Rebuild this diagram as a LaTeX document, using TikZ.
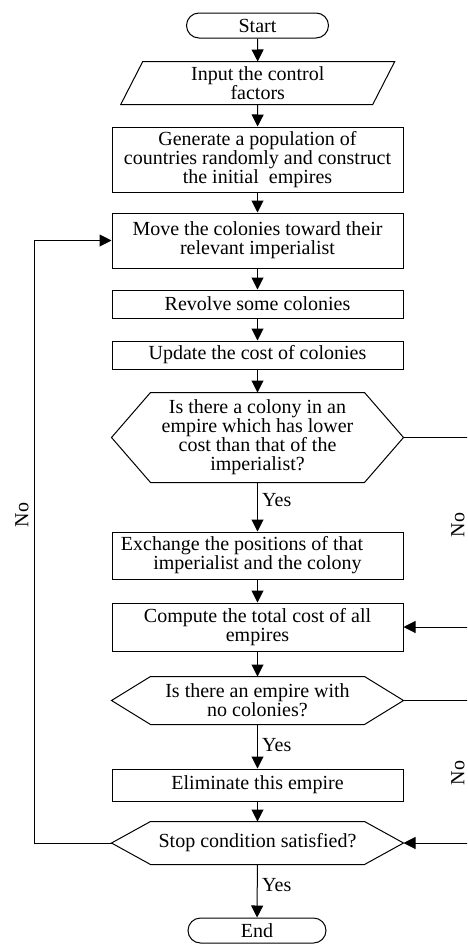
\documentclass[tikz,border=0pt]{standalone}
\usepackage{fontspec}
\setmainfont{Liberation Serif}
\usetikzlibrary{arrows.meta,calc}
\begin{document}
\begin{tikzpicture}[x=1pt,y=-1pt,
  base/.style={font=\fontsize{20}{19}\selectfont, align=center, inner sep=0pt, line width=1pt},
  proc/.style={base, draw, minimum width=291pt},
  term/.style={base, draw, minimum width=142pt, minimum height=25pt, rounded corners=12.5pt},
  ghost/.style={base, minimum width=291pt},
  arr/.style={line width=1pt, -{Triangle[length=12pt,width=12pt]}},
  lbl/.style={font=\fontsize{20}{20}\selectfont, inner sep=0pt},
  shp/.style={line width=1pt, line join=miter}
]
\useasboundingbox (0,0) rectangle (467,945);
\clip (0,0) rectangle (467,945);

\node[term] (start) at (257.5,25.5) {Start};
\node[base, minimum width=251pt, minimum height=42pt] (input) at (257.75,83) {Input the control\\factors};
\draw[shp] ($(input.north west)+(11,0)$) -- ($(input.north east)+(11,0)$) -- ($(input.south east)+(-11,0)$) -- ($(input.south west)+(-11,0)$) -- cycle;
\node[proc, minimum height=65pt] (gen) at (257.5,159.5) {Generate a population of\\countries randomly and construct\\the initial \ empires};
\node[proc, minimum height=55pt] (move) at (257.5,240.5) {Move the colonies toward their\\relevant imperialist};
\node[proc, minimum height=28pt] (rev) at (257.5,304) {Revolve some colonies};
\node[proc, minimum height=28pt] (upd) at (257.5,355) {Update the cost of colonies};
\node[ghost, minimum height=89pt] (hex1) at (257.5,437.5) {Is there a colony in an\\empire which has lower\\cost than that of the\\imperialist?};
\node[proc, minimum height=47pt] (exch) at (257.5,555.5) {Exchange the positions of that\hspace*{31pt}\\imperialist and the colony};
\node[proc, minimum height=48pt] (comp) at (257.5,627) {Compute the total cost of all\\empires};
\node[ghost, minimum height=47pt] (hex2) at (257.5,700.5) {Is there an empire with\\no colonies?};
\node[proc, minimum height=32pt] (elim) at (257.5,785) {Eliminate this empire};
\node[ghost, minimum height=42pt] (hex3) at (257.5,843) {Stop condition satisfied?};
\node[term, minimum width=138pt] (end) at (257,930.5) {End};

\foreach \h in {hex1,hex2,hex3}
  \draw[shp] (\h.west) -- ($(\h.north west)+(39,0)$) -- ($(\h.north east)+(-39,0)$) -- (\h.east) -- ($(\h.south east)+(-39,0)$) -- ($(\h.south west)+(39,0)$) -- cycle;

\draw[arr] (start) -- (input);
\draw[arr] (input) -- (gen);
\draw[arr] (gen) -- (move);
\draw[arr] (move) -- (rev);
\draw[arr] (rev) -- (upd);
\draw[arr] (upd) -- (hex1);
\draw[arr] (hex1) -- (exch);
\draw[arr] (exch) -- (comp);
\draw[arr] (comp) -- (hex2);
\draw[arr] (hex2) -- (elim);
\draw[arr] (elim) -- (hex3);
\draw[arr] (hex3) -- (end);

\node[lbl, anchor=west] (yes1) at (262,500) {Yes};
\node[lbl, anchor=west] (yes2) at (262,745) {Yes};
\node[lbl, anchor=west] (yes3) at (262,885) {Yes};

\coordinate (loopx) at (34,0);
\draw[arr] (hex3.west) -- (hex3.west -| loopx) -- (move.west -| loopx) -- (move.west);
\node[lbl, rotate=90] (no1) at (22,515) {No};

\coordinate (busx) at (480,0);
\draw[arr] (hex1.east) -- (hex1.east -| busx) -- (comp.east -| busx) -- (comp.east);
\draw[arr] (hex2.east) -- (hex2.east -| busx) -- (hex3.east -| busx) -- (hex3.east);
\node[lbl, rotate=90] (no2) at (458,525) {No};
\node[lbl, rotate=90] (no3) at (458,773) {No};
\end{tikzpicture}
\end{document}
